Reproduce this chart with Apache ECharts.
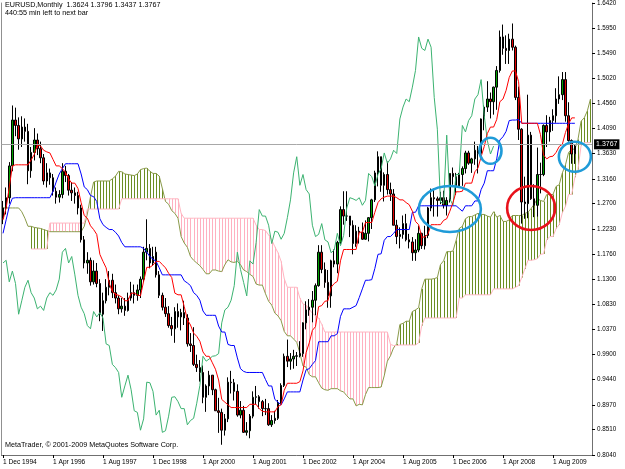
<!DOCTYPE html>
<html>
<head>
<meta charset="utf-8">
<title>EURUSD, Monthly</title>
<script src="https://cdn.jsdelivr.net/npm/echarts@6/dist/echarts.min.js"></script>
<style>
  html, body { margin: 0; padding: 0; background: #fff; }
  #main { width: 625px; height: 469px; }
</style>
</head>
<body>
<div id="main"></div>
<script>
// monthly bars, index 0 = Dec 1994, last bar = Mar 2010 (index 183)
var opens = [
  1.243,1.262,1.281,1.340,1.425,1.415,1.390,1.412,1.404,1.331,
  1.365,1.388,1.372,1.355,1.312,1.327,1.318,1.293,1.282,1.287,
  1.330,1.322,1.295,1.290,1.285,1.262,1.203,1.160,1.165,1.125,
  1.145,1.122,1.065,1.090,1.115,1.128,1.105,1.095,1.075,1.080,
  1.072,1.095,1.105,1.100,1.110,1.130,1.180,1.187,1.160,1.180,
  1.138,1.100,1.078,1.066,1.044,1.038,1.070,1.060,1.068,1.058,
  1.010,1.007,0.972,0.966,0.957,0.911,0.932,0.952,0.925,0.886,
  0.883,0.850,0.871,0.939,0.938,0.922,0.878,0.887,0.846,0.849,
  0.876,0.911,0.912,0.903,0.890,0.890,0.860,0.868,0.872,0.900,
  0.933,0.987,0.978,0.982,0.987,0.988,0.992,1.049,1.073,1.078,
  1.091,1.118,1.180,1.148,1.124,1.099,1.164,1.158,1.198,1.259,
  1.247,1.247,1.230,1.196,1.219,1.217,1.204,1.215,1.244,1.277,
  1.327,1.357,1.304,1.324,1.296,1.288,1.230,1.209,1.213,1.233,
  1.203,1.199,1.179,1.184,1.215,1.192,1.211,1.262,1.281,1.279,
  1.276,1.281,1.267,1.276,1.326,1.320,1.303,1.324,1.335,1.364,
  1.345,1.353,1.369,1.363,1.427,1.449,1.464,1.459,1.486,1.517,
  1.579,1.558,1.554,1.575,1.560,1.467,1.408,1.273,1.270,1.397,
  1.279,1.267,1.324,1.324,1.415,1.403,1.424,1.433,1.464,1.472,
  1.500,1.433,1.387,1.3624
];
var highs = [
  1.275,1.300,1.347,1.452,1.448,1.430,1.432,1.428,1.418,1.375,
  1.410,1.400,1.385,1.362,1.345,1.335,1.325,1.300,1.295,1.345,
  1.340,1.325,1.310,1.300,1.292,1.268,1.210,1.180,1.170,1.165,
  1.160,1.130,1.105,1.130,1.145,1.140,1.120,1.100,1.095,1.095,
  1.105,1.125,1.120,1.120,1.135,1.190,1.241,1.195,1.190,1.190,
  1.145,1.105,1.095,1.080,1.060,1.078,1.085,1.075,1.090,1.065,
  1.030,1.041,0.990,0.980,0.970,0.935,0.960,0.952,0.927,0.910,
  0.890,0.880,0.948,0.960,0.945,0.935,0.904,0.895,0.865,0.880,
  0.922,0.932,0.915,0.906,0.908,0.900,0.878,0.886,0.906,0.937,
  0.992,1.018,0.993,0.999,0.995,1.015,1.050,1.089,1.093,1.108,
  1.122,1.193,1.193,1.161,1.147,1.166,1.185,1.201,1.265,1.293,
  1.293,1.247,1.239,1.230,1.227,1.235,1.239,1.245,1.279,1.331,
  1.367,1.357,1.328,1.348,1.309,1.297,1.240,1.226,1.248,1.251,
  1.214,1.208,1.204,1.229,1.216,1.229,1.264,1.298,1.298,1.283,
  1.292,1.294,1.282,1.326,1.337,1.327,1.327,1.339,1.368,1.368,
  1.355,1.385,1.377,1.428,1.452,1.497,1.476,1.487,1.525,1.591,
  1.602,1.582,1.585,1.604,1.563,1.487,1.410,1.320,1.472,1.403,
  1.306,1.374,1.346,1.417,1.434,1.431,1.445,1.484,1.506,1.514,
  1.514,1.458,1.389,1.3796
];
var lows = [
  1.232,1.250,1.270,1.330,1.395,1.370,1.375,1.385,1.306,1.318,
  1.350,1.360,1.345,1.305,1.300,1.305,1.285,1.270,1.272,1.280,
  1.310,1.285,1.275,1.270,1.250,1.198,1.150,1.140,1.118,1.120,
  1.115,1.052,1.034,1.085,1.100,1.095,1.085,1.065,1.068,1.062,
  1.070,1.090,1.085,1.090,1.095,1.125,1.165,1.150,1.155,1.133,
  1.095,1.072,1.060,1.040,1.025,1.012,1.040,1.035,1.045,1.005,
  0.995,0.969,0.958,0.940,0.900,0.884,0.915,0.915,0.886,0.845,
  0.823,0.840,0.865,0.918,0.905,0.875,0.872,0.845,0.840,0.835,
  0.872,0.898,0.890,0.876,0.878,0.858,0.856,0.862,0.869,0.899,
  0.930,0.967,0.962,0.964,0.969,0.985,0.986,1.037,1.062,1.050,
  1.063,1.116,1.141,1.114,1.077,1.077,1.152,1.141,1.195,1.231,
  1.238,1.208,1.176,1.190,1.196,1.203,1.203,1.200,1.223,1.273,
  1.302,1.292,1.274,1.287,1.275,1.230,1.195,1.187,1.205,1.200,
  1.187,1.164,1.164,1.180,1.186,1.185,1.206,1.256,1.246,1.246,
  1.269,1.261,1.248,1.272,1.305,1.286,1.299,1.303,1.326,1.342,
  1.327,1.342,1.326,1.358,1.406,1.440,1.428,1.435,1.444,1.513,
  1.546,1.529,1.529,1.554,1.462,1.388,1.233,1.242,1.243,1.277,
  1.245,1.246,1.289,1.321,1.375,1.385,1.405,1.420,1.455,1.462,
  1.422,1.385,1.344,1.3437
];
var closes = [
  1.262,1.281,1.340,1.425,1.415,1.390,1.412,1.404,1.331,1.365,
  1.388,1.372,1.355,1.312,1.327,1.318,1.293,1.282,1.287,1.330,
  1.322,1.295,1.290,1.285,1.262,1.203,1.160,1.165,1.125,1.145,
  1.122,1.065,1.090,1.115,1.128,1.105,1.095,1.075,1.080,1.072,
  1.095,1.105,1.100,1.110,1.130,1.180,1.187,1.160,1.172,1.138,
  1.100,1.078,1.066,1.044,1.038,1.070,1.060,1.068,1.058,1.010,
  1.007,0.972,0.966,0.957,0.911,0.932,0.952,0.925,0.886,0.883,
  0.850,0.871,0.939,0.938,0.922,0.878,0.887,0.846,0.849,0.876,
  0.911,0.912,0.903,0.890,0.890,0.860,0.868,0.872,0.900,0.933,
  0.987,0.978,0.982,0.987,0.988,0.992,1.049,1.073,1.078,1.091,
  1.118,1.180,1.148,1.124,1.099,1.164,1.158,1.198,1.259,1.247,
  1.247,1.230,1.196,1.219,1.217,1.204,1.215,1.244,1.277,1.327,
  1.357,1.304,1.324,1.296,1.288,1.230,1.209,1.213,1.233,1.203,
  1.199,1.179,1.184,1.215,1.192,1.211,1.262,1.281,1.279,1.276,
  1.281,1.267,1.276,1.326,1.320,1.303,1.324,1.335,1.364,1.345,
  1.353,1.369,1.363,1.427,1.449,1.464,1.459,1.486,1.517,1.579,
  1.558,1.554,1.575,1.560,1.467,1.408,1.273,1.270,1.397,1.279,
  1.267,1.324,1.324,1.415,1.403,1.424,1.433,1.464,1.472,1.500,
  1.433,1.387,1.362,1.3767
];

// Ichimoku lines
var tenkan = [
  1.240,1.262,1.300,1.340,1.342,1.342,1.342,1.342,1.342,1.351,
  1.361,1.379,1.377,1.369,1.366,1.364,1.352,1.340,1.340,1.335,
  1.328,1.316,1.308,1.308,1.298,1.272,1.248,1.243,1.229,1.222,
  1.213,1.176,1.163,1.151,1.122,1.107,1.102,1.100,1.097,1.090,
  1.090,1.104,1.104,1.101,1.099,1.126,1.152,1.152,1.156,1.163,
  1.163,1.157,1.151,1.141,1.133,1.104,1.101,1.101,1.079,1.055,
  1.045,1.030,1.024,1.015,0.995,0.987,0.987,0.975,0.963,0.943,
  0.907,0.902,0.897,0.892,0.892,0.892,0.892,0.892,0.892,0.898,
  0.898,0.898,0.890,0.885,0.884,0.884,0.884,0.884,0.894,0.897,
  0.924,0.937,0.937,0.937,0.937,0.940,0.960,0.994,1.012,1.035,
  1.042,1.079,1.081,1.089,1.090,1.115,1.122,1.126,1.164,1.185,
  1.185,1.185,1.185,1.185,1.217,1.217,1.235,1.235,1.235,1.254,
  1.272,1.279,1.282,1.284,1.284,1.284,1.281,1.277,1.277,1.272,
  1.268,1.256,1.237,1.231,1.208,1.208,1.214,1.231,1.231,1.231,
  1.231,1.239,1.242,1.256,1.272,1.292,1.292,1.293,1.308,1.308,
  1.308,1.329,1.336,1.357,1.376,1.400,1.412,1.412,1.426,1.459,
  1.464,1.480,1.504,1.516,1.516,1.496,1.419,1.419,1.419,1.419,
  1.419,1.419,1.398,1.360,1.353,1.357,1.358,1.365,1.376,1.380,
  1.402,1.418,1.429,1.429
];
var kijun = [
  1.215,1.240,1.265,1.280,1.281,1.281,1.281,1.281,1.281,1.281,
  1.281,1.281,1.281,1.281,1.281,1.281,1.293,1.310,1.325,1.335,
  1.344,1.344,1.344,1.344,1.344,1.325,1.301,1.296,1.285,1.283,
  1.274,1.242,1.231,1.226,1.222,1.222,1.217,1.210,1.198,1.190,
  1.190,1.190,1.190,1.190,1.190,1.187,1.180,1.172,1.167,1.163,
  1.151,1.138,1.138,1.138,1.138,1.138,1.138,1.138,1.127,1.123,
  1.118,1.105,1.100,1.091,1.071,1.063,1.063,1.063,1.063,1.043,
  1.032,1.032,1.009,1.007,1.007,0.984,0.964,0.959,0.957,0.957,
  0.957,0.957,0.957,0.957,0.944,0.932,0.932,0.907,0.902,0.897,
  0.908,0.921,0.921,0.921,0.921,0.921,0.943,0.962,0.964,0.972,
  0.979,1.014,1.014,1.014,1.014,1.025,1.025,1.029,1.061,1.075,
  1.075,1.075,1.078,1.081,1.096,1.112,1.128,1.128,1.129,1.150,
  1.176,1.177,1.202,1.209,1.209,1.215,1.222,1.222,1.222,1.222,
  1.222,1.254,1.254,1.266,1.266,1.266,1.266,1.266,1.266,1.266,
  1.266,1.266,1.266,1.266,1.266,1.266,1.261,1.256,1.266,1.266,
  1.266,1.275,1.275,1.296,1.308,1.331,1.331,1.331,1.353,1.388,
  1.394,1.404,1.424,1.425,1.425,1.426,1.419,1.419,1.419,1.419,
  1.419,1.419,1.419,1.419,1.419,1.419,1.419,1.419,1.419,1.419,
  1.419,1.419,1.419,1.419
];
// senkou spans run 26 bars past the last bar (index 0..188)
var spanA = [
  1.262,1.262,1.262,1.262,1.262,1.262,1.255,1.243,1.228,1.228,
  1.226,1.225,1.224,1.222,1.220,1.218,1.218,1.218,1.218,1.218,
  1.218,1.218,1.218,1.218,1.218,1.218,1.228,1.251,1.283,1.310,
  1.312,1.312,1.312,1.312,1.312,1.316,1.321,1.330,1.329,1.325,
  1.324,1.323,1.322,1.325,1.333,1.335,1.336,1.330,1.326,1.326,
  1.321,1.298,1.274,1.269,1.257,1.252,1.243,1.209,1.197,1.189,
  1.172,1.165,1.160,1.155,1.148,1.140,1.140,1.147,1.147,1.145,
  1.144,1.157,1.166,1.162,1.161,1.163,1.157,1.147,1.144,1.139,
  1.135,1.121,1.119,1.119,1.103,1.089,1.082,1.067,1.062,1.053,
  1.033,1.025,1.025,1.019,1.013,0.993,0.969,0.967,0.953,0.949,
  0.949,0.938,0.928,0.925,0.924,0.927,0.927,0.927,0.923,0.921,
  0.914,0.908,0.908,0.895,0.898,0.897,0.916,0.929,0.929,0.929,
  0.929,0.930,0.951,0.978,0.988,1.003,1.010,1.046,1.048,1.052,
  1.052,1.070,1.073,1.077,1.112,1.130,1.130,1.130,1.131,1.133,
  1.157,1.164,1.181,1.181,1.182,1.202,1.224,1.228,1.242,1.246,
  1.246,1.249,1.252,1.250,1.250,1.247,1.245,1.255,1.245,1.248,
  1.237,1.237,1.240,1.248,1.248,1.248,1.248,1.252,1.254,1.261,
  1.269,1.279,1.276,1.274,1.287,1.287,1.287,1.302,1.305,1.327,
  1.342,1.365,1.371,1.371,1.389,1.423,1.429,1.442,1.464
];
var spanB = [
  null,null,null,null,null,null,null,null,null,1.186,
  1.186,1.186,1.186,1.186,1.186,1.234,1.234,1.234,1.234,1.234,
  1.234,1.234,1.234,1.234,1.234,1.234,1.234,1.260,1.260,1.260,
  1.260,1.260,1.260,1.260,1.260,1.260,1.260,1.260,1.279,1.279,
  1.279,1.279,1.279,1.279,1.279,1.279,1.279,1.279,1.279,1.279,
  1.279,1.279,1.279,1.279,1.279,1.279,1.279,1.252,1.243,1.243,
  1.243,1.243,1.243,1.243,1.243,1.243,1.243,1.243,1.243,1.243,
  1.243,1.243,1.243,1.243,1.243,1.243,1.243,1.243,1.243,1.243,
  1.243,1.230,1.222,1.222,1.220,1.212,1.203,1.190,1.179,1.163,
  1.131,1.115,1.115,1.115,1.115,1.095,1.084,1.082,1.074,1.067,
  1.062,1.058,1.046,1.032,1.032,1.032,1.032,1.032,1.032,1.032,
  1.032,1.032,1.032,1.032,1.032,1.032,1.032,1.032,1.032,1.032,
  1.032,1.032,1.032,1.032,1.009,1.007,1.007,1.008,1.008,1.008,
  1.008,1.008,1.008,1.012,1.044,1.058,1.058,1.058,1.058,1.058,
  1.058,1.058,1.058,1.058,1.058,1.058,1.095,1.095,1.101,1.101,
  1.101,1.101,1.101,1.101,1.101,1.101,1.101,1.112,1.112,1.112,
  1.112,1.112,1.112,1.112,1.115,1.118,1.133,1.149,1.165,1.165,
  1.166,1.168,1.176,1.177,1.203,1.209,1.209,1.224,1.231,1.253,
  1.265,1.287,1.287,1.319,1.333,1.378,1.383,1.383,1.383
];

var yLabels = ['0.8040','0.8510','0.8970','0.9440','0.9900','1.0370','1.0830','1.1300','1.1760','1.2230',
               '1.2700','1.3160','1.3630','1.4090','1.4560','1.5020','1.5490','1.5950','1.6420'];
var lastPrice = 1.3767;

// hand drawn marks: [bar index, price]
var blueMarks = [[143, 1.260], [156, 1.368], [183, 1.357]];
var redMarks = [[169, 1.262]];

var monthNames = ['Jan','Feb','Mar','Apr','May','Jun','Jul','Aug','Sep','Oct','Nov','Dec'];
var months = [];
for (var k = 0; k < spanA.length; k++) {
  var m = (11 + k) % 12;
  var yr = 1994 + Math.floor((11 + k) / 12);
  months.push('1 ' + monthNames[m] + ' ' + yr);
}

var candles = [];
for (var k = 0; k < opens.length; k++) {
  candles.push([opens[k], closes[k], lows[k], highs[k]]);
}
// chikou = close plotted 26 bars back
var chikou = closes.slice(26);

var cloud = [];
for (var k = 0; k < spanA.length; k++) {
  if (spanB[k] != null) cloud.push([k, spanA[k], spanB[k]]);
}

var font = '"Liberation Sans", Arial, sans-serif';
var upKumo = '#6b8e23';
var downKumo = '#ffb0c0';

var myChart = echarts.init(document.getElementById('main'));

var option = {
  animation: false,
  backgroundColor: '#ffffff',
  grid: { left: 1.44, right: 32.96, top: 1.7, bottom: 14 },
  xAxis: {
    type: 'category',
    data: months,
    boundaryGap: true,
    axisLine: { lineStyle: { color: '#707070', width: 1 } },
    axisTick: { show: true, interval: 15, alignWithLabel: true, length: 3, lineStyle: { color: '#000' } },
    axisLabel: { interval: 15, align: 'left', margin: 4, fontSize: 6.6, color: '#000', fontFamily: font },
    splitLine: { show: false }
  },
  yAxis: [{
    type: 'value',
    position: 'right',
    min: 0.804,
    max: 1.642,
    axisLine: { show: true, lineStyle: { color: '#707070' } },
    axisTick: { show: true, length: 3, inside: false, customValues: yLabels.map(Number), lineStyle: { color: '#000' } },
    axisLabel: {
      customValues: yLabels.map(Number),
      formatter: function (v) { return v.toFixed(4); },
      margin: 5, fontSize: 6.3, color: '#000', fontFamily: font
    },
    splitLine: { show: false }
  }, {
    type: 'value',
    position: 'left',
    min: 0.804,
    max: 1.642,
    axisLine: { show: true, lineStyle: { color: '#909090' } },
    axisTick: { show: false },
    axisLabel: { show: false },
    splitLine: { show: false }
  }],
  series: [
    {
      // kumo hatch: one vertical stroke per bar between span A and span B
      name: 'kumo',
      type: 'custom',
      silent: true,
      z: 1,
      data: cloud,
      encode: { x: 0, y: [1, 2] },
      renderItem: function (params, api) {
        var t = api.value(0), a = api.value(1), b = api.value(2);
        var p1 = api.coord([t, a]);
        var p2 = api.coord([t, b]);
        var x = Math.round(p1[0]) + 0.5;
        return {
          type: 'line',
          shape: { x1: x, y1: p1[1], x2: x, y2: p2[1] },
          style: { stroke: a >= b ? upKumo : downKumo, lineWidth: 1 }
        };
      }
    },
    { name: 'Senkou A', type: 'line', data: spanA, showSymbol: false, silent: true, z: 2,
      lineStyle: { color: '#8a9a4a', width: 1 } },
    { name: 'Senkou B', type: 'line', data: spanB, showSymbol: false, silent: true, z: 2,
      lineStyle: { color: '#ffb6c1', width: 1 } },
    {
      name: 'EURUSD',
      type: 'candlestick',
      data: candles,
      barWidth: 2,
      z: 3,
      itemStyle: {
        color: '#00a000', color0: '#e00000',
        borderColor: '#000', borderColor0: '#000', borderWidth: 1
      },
      markLine: {
        silent: true,
        symbol: 'none',
        data: [{ yAxis: lastPrice }],
        lineStyle: { color: '#a8a8a8', type: 'solid', width: 1 },
        label: {
          position: 'end', distance: 2,
          formatter: lastPrice.toFixed(4),
          backgroundColor: '#000', color: '#fff',
          fontSize: 7, fontFamily: font, padding: [2, 2, 1, 2]
        }
      }
    },
    { name: 'Chikou', type: 'line', data: chikou, showSymbol: false, silent: true, z: 4,
      lineStyle: { color: '#3cb371', width: 1 } },
    { name: 'Kijun', type: 'line', data: kijun, showSymbol: false, silent: true, z: 4,
      lineStyle: { color: '#0000ff', width: 1 } },
    { name: 'Tenkan', type: 'line', data: tenkan, showSymbol: false, silent: true, z: 4,
      lineStyle: { color: '#ff0000', width: 1 } }
  ]
};
myChart.setOption(option);

// texts + ellipses
var graphics = [
  { type: 'text', x: 5, y: 2, z: 100, silent: true,
    style: { text: 'EURUSD,Monthly  1.3624 1.3796 1.3437 1.3767', fill: '#000', fontSize: 7.2, fontFamily: font } },
  { type: 'text', x: 5, y: 10, z: 100, silent: true,
    style: { text: '440:55 min left to next bar', fill: '#000', fontSize: 7.2, fontFamily: font } },
  { type: 'text', x: 5, y: 441.5, z: 100, silent: true,
    style: { text: 'MetaTrader, \u00a9 2001-2009 MetaQuotes Software Corp.', fill: '#000', fontSize: 7.2, fontFamily: font } }
];
var blueR = [[31, 23], [11, 13], [16, 15]];
blueMarks.forEach(function (d, n) {
  var c = myChart.convertToPixel({ xAxisIndex: 0, yAxisIndex: 0 }, d);
  graphics.push({ type: 'ellipse', z: 100, silent: true,
    shape: { cx: c[0], cy: c[1], rx: blueR[n][0], ry: blueR[n][1] },
    style: { fill: null, stroke: '#1f9bd8', lineWidth: 2.6 } });
});
redMarks.forEach(function (d) {
  var c = myChart.convertToPixel({ xAxisIndex: 0, yAxisIndex: 0 }, d);
  graphics.push({ type: 'ellipse', z: 100, silent: true,
    shape: { cx: c[0], cy: c[1], rx: 24, ry: 22 },
    style: { fill: null, stroke: '#e8121b', lineWidth: 2.6 } });
});
myChart.setOption({ graphic: graphics });
</script>
</body>
</html>
